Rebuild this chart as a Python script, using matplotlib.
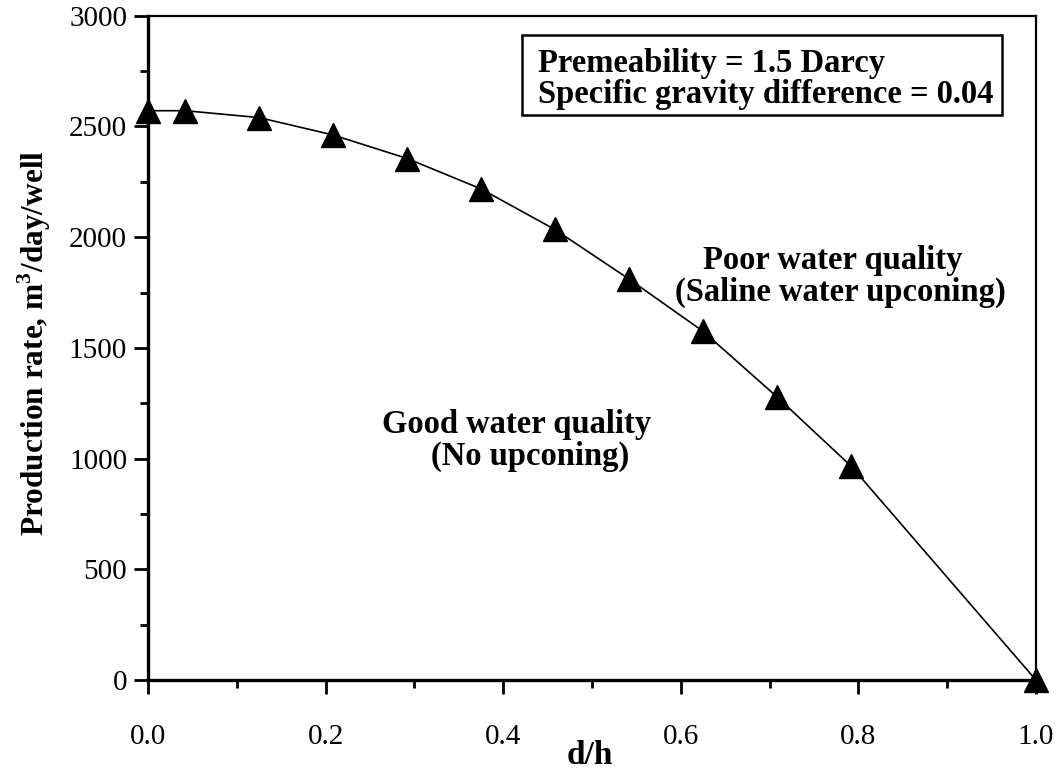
import numpy as np
import matplotlib.pyplot as plt
from matplotlib.ticker import MultipleLocator
from matplotlib.patches import Rectangle

plt.rcParams['font.family'] = ['Liberation Serif', 'DejaVu Serif']
plt.rcParams['mathtext.fontset'] = 'custom'
plt.rcParams['mathtext.bf'] = 'Liberation Serif:bold'
plt.rcParams['mathtext.rm'] = 'Liberation Serif'

# d/h and production rate (m3/day/well)
d_h = [0.0, 0.042, 0.125, 0.208, 0.292, 0.375, 0.458, 0.542, 0.625, 0.708, 0.792, 1.0]
rate = [2571, 2571, 2540, 2462, 2355, 2218, 2035, 1810, 1575, 1280, 965, 0]

fig = plt.figure(figsize=(10.61, 7.74), dpi=100)
ax = fig.add_axes([0.1395, 0.1214, 0.8369, 0.8583])

ax.plot(d_h, rate, '-', color='black', lw=1.2, marker='^', markersize=17.5,
        clip_on=False, zorder=3)

ax.set_xlim(0, 1.0)
ax.set_ylim(0, 3000)
ax.xaxis.set_major_locator(MultipleLocator(0.2))
ax.xaxis.set_minor_locator(MultipleLocator(0.1))
ax.yaxis.set_major_locator(MultipleLocator(500))
ax.yaxis.set_minor_locator(MultipleLocator(250))
ax.xaxis.set_major_formatter(plt.FuncFormatter(lambda v, p: f'{v:.1f}'))

ax.tick_params(which='major', direction='out', length=10, width=2, labelsize=21)
ax.tick_params(which='minor', direction='out', length=6, width=2)
ax.tick_params(axis='x', which='major', pad=22)
ax.tick_params(axis='y', which='major', pad=5)

for s in ['left', 'bottom']:
    ax.spines[s].set_linewidth(2.4)
for s in ['top', 'right']:
    ax.spines[s].set_linewidth(1.6)

ax.set_xlabel('d/h', fontsize=24, fontweight='bold')
ax.xaxis.set_label_coords(0.497, -0.09)
ax.set_ylabel(r'Production rate, m$^\mathbf{3}$/day/well', fontsize=22.5,
              fontweight='bold')
ax.yaxis.set_label_coords(-0.1075, 0.507)

# parameter box
ax.add_patch(Rectangle((0.4212, 0.8505), 0.5405, 0.1205, transform=ax.transAxes,
                       fill=False, ec='black', lw=1.8, zorder=4))
ax.text(0.4392, 0.9153, 'Premeability = 1.5 Darcy', transform=ax.transAxes,
        fontsize=23.5, fontweight='bold', va='baseline', ha='left')
ax.text(0.4392, 0.8686, 'Specific gravity difference = 0.04', transform=ax.transAxes,
        fontsize=23.5, fontweight='bold', va='baseline', ha='left')

ax.text(0.771, 0.632, 'Poor water quality', transform=ax.transAxes,
        fontsize=23.5, fontweight='bold', ha='center', va='center')
ax.text(0.780, 0.584, '(Saline water upconing)', transform=ax.transAxes,
        fontsize=23.5, fontweight='bold', ha='center', va='center')
ax.text(0.415, 0.384, 'Good water quality', transform=ax.transAxes,
        fontsize=23.5, fontweight='bold', ha='center', va='center')
ax.text(0.430, 0.336, '(No upconing)', transform=ax.transAxes,
        fontsize=23.5, fontweight='bold', ha='center', va='center')

fig.savefig('out.png', dpi=100)
